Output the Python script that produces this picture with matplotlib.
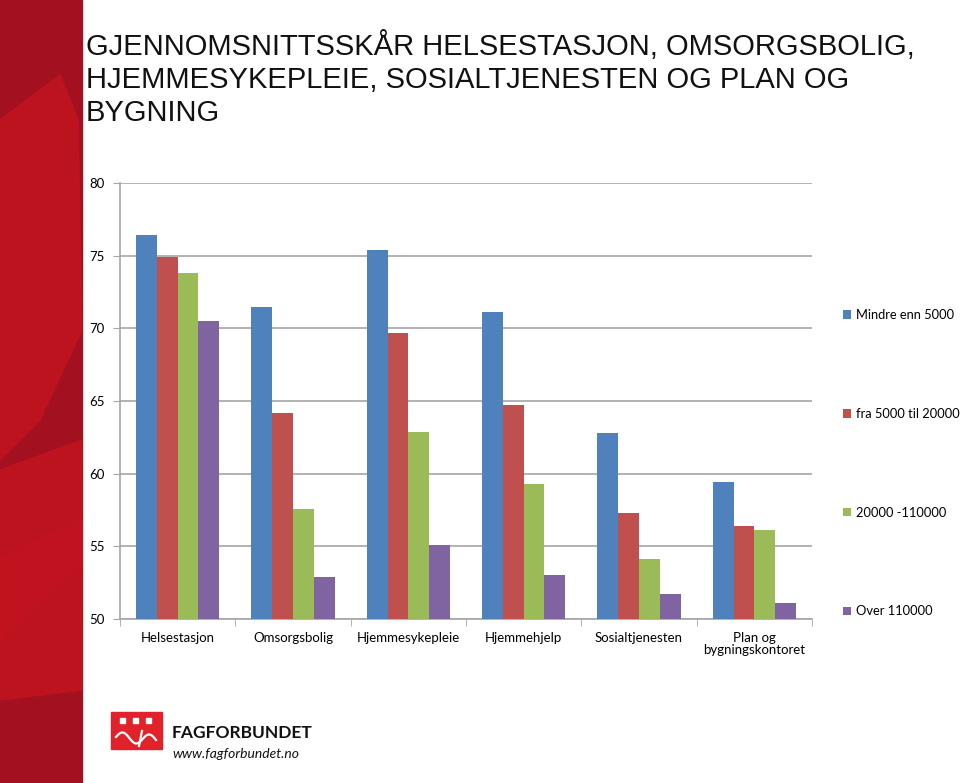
import matplotlib.pyplot as plt
import numpy as np
from matplotlib.patches import Rectangle, Polygon
from matplotlib.lines import Line2D

# Data
kategorier = ["Helsestasjon", "Omsorgsbolig", "Hjemmesykepleie", "Hjemmehjelp",
              "Sosialtjenesten", "Plan og\nbygningskontoret"]
serier = ["Mindre enn 5000", "fra 5000 til 20000", "20000 -110000", "Over 110000"]
mindre_5000 = [76.4, 71.5, 75.4, 71.1, 62.8, 59.4]
fra_5000_20000 = [74.9, 64.2, 69.7, 64.7, 57.3, 56.4]
fra_20000_110000 = [73.8, 57.6, 62.9, 59.3, 54.1, 56.1]
over_110000 = [70.5, 52.9, 55.1, 53.0, 51.7, 51.1]
verdier = [mindre_5000, fra_5000_20000, fra_20000_110000, over_110000]
farger = ["#4F81BD", "#C0504D", "#9BBB59", "#8064A2"]

fig = plt.figure(figsize=(9.6, 7.83), dpi=100)
W, H = 960, 783


def fp(px, py):
    return (px / W, 1 - py / H)


# red band on the left of the slide
fig.patches.append(Rectangle((0, 0), 82 / W, 1, transform=fig.transFigure,
                             color="#A31020", zorder=0))
lys = "#C3141F"
for pts in [
    [(0, 120), (60, 75), (78, 120), (82, 330), (40, 420), (0, 460)],
    [(0, 470), (82, 440), (82, 560), (30, 610), (0, 640)],
    [(0, 560), (82, 520), (82, 690), (0, 700)],
]:
    fig.patches.append(Polygon([fp(px, py) for px, py in pts],
                               closed=True, transform=fig.transFigure,
                               color=lys, alpha=0.8, zorder=0))

# title
fig.text(*fp(86, 31),
         "GJENNOMSNITTSSKÅR HELSESTASJON, OMSORGSBOLIG,\n"
         "HJEMMESYKEPLEIE, SOSIALTJENESTEN OG PLAN OG\nBYGNING",
         family="Liberation Sans", fontsize=21, va="top", ha="left",
         linespacing=1.23, color="#111111")

ax = fig.add_axes([120 / W, 1 - 619 / H, 692 / W, 436 / H])
x = np.arange(len(kategorier))
bredde = 0.18
for i, (navn, vals, farge) in enumerate(zip(serier, verdier, farger)):
    ax.bar(x + (i - 1.5) * bredde, np.array(vals) - 50, bredde, bottom=50,
           color=farge, label=navn, zorder=3)

ax.set_ylim(50, 80)
ax.set_xlim(-0.5, len(kategorier) - 0.5)
ax.set_yticks(range(50, 81, 5))
ax.yaxis.grid(True, color="#A6A6A6", linewidth=1.2, zorder=0)
ax.set_xticks(x)
ax.set_xticklabels(kategorier, family="Lato", fontsize=9.5, linespacing=1.1)
ax.set_xticks(np.arange(-0.5, len(kategorier)), minor=True)
ax.tick_params(axis="x", which="major", length=0, pad=9)
ax.tick_params(axis="x", which="minor", length=5, color="#A6A6A6")
ax.tick_params(axis="y", length=5, color="#A6A6A6", labelsize=9.5, pad=6)
for lbl in ax.get_yticklabels():
    lbl.set_family("Lato")
for s in ["top", "right"]:
    ax.spines[s].set_visible(False)
for s in ["left", "bottom"]:
    ax.spines[s].set_color("#A6A6A6")
    ax.spines[s].set_linewidth(1.2)
ax.set_facecolor("white")

leg = fig.legend(loc="upper left", bbox_to_anchor=fp(843, 309),
                 frameon=False, handlelength=0.65, handleheight=0.65,
                 handletextpad=0.35, labelspacing=6.72, borderpad=0,
                 borderaxespad=0, prop={"family": "Lato", "size": 9.3})

# logo
fig.patches.append(Rectangle(fp(111, 749), 51 / W, 37 / H,
                             transform=fig.transFigure, color="#E2222B", zorder=2))
for dx in [120, 133, 146]:
    fig.patches.append(Rectangle(fp(dx, 723), 5 / W, 5 / H,
                                 transform=fig.transFigure, color="white", zorder=3))
t = np.linspace(0, 1, 60)
sx = 116 + 40 * t
sy = 737 - 5 * np.sin(t * 3 * np.pi) + 3 * t
fig.lines.append(Line2D(sx / W, 1 - sy / H, transform=fig.transFigure,
                        color="white", linewidth=1.6, zorder=4))
fig.lines.append(Line2D([142 / W, 139 / W], [1 - 731 / H, 1 - 746 / H],
                        transform=fig.transFigure, color="white",
                        linewidth=1.6, zorder=4))
fig.text(*fp(172, 733), "FAGFORBUNDET", family="Lato", weight="bold",
         fontsize=12.5, va="center", ha="left", color="#111111")
fig.text(*fp(172, 754), "www.fagforbundet.no", family="Lato",
         style="italic", fontsize=10, va="center", ha="left", color="#111111")

fig.savefig("out.png", dpi=100, facecolor="white")
